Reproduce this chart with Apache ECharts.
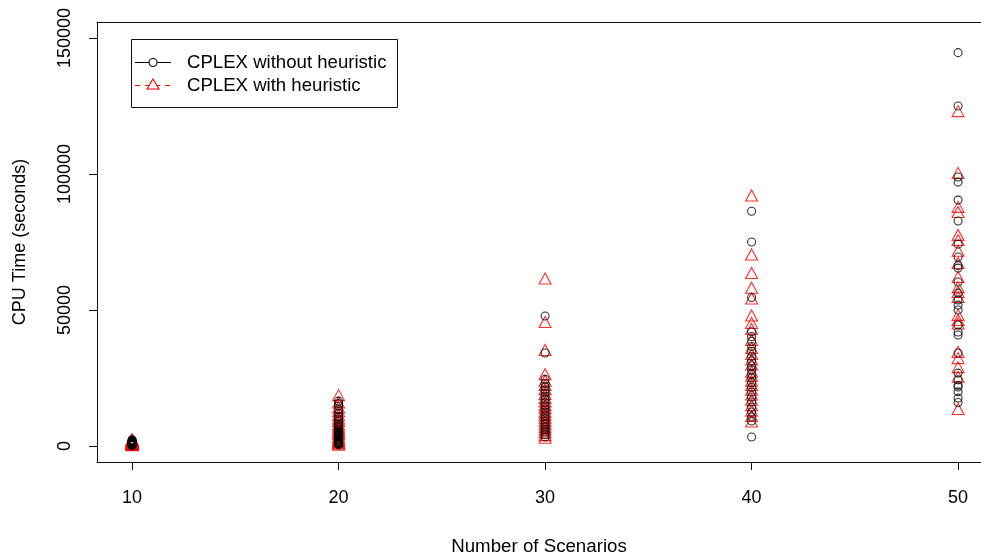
<!DOCTYPE html>
<html>
<head>
<meta charset="utf-8">
<script src="https://cdn.jsdelivr.net/npm/echarts@6/dist/echarts.min.js"></script>
<style>
html,body{margin:0;padding:0;background:#fff;}
#chart{width:981px;height:556px;}
</style>
</head>
<body>
<div id="chart"></div>
<script>
// Number of scenarios (x categories)
const scenarios = [10, 20, 30, 40, 50];

// CPU time (seconds): CPLEX without heuristic, per scenario count
const noHeur10 = [200, 300, 400, 500, 600, 700, 800, 900, 1000, 1100, 1200, 1300, 1400, 1500, 1600, 1700, 1900, 2100, 2300, 900];
const noHeur20 = [16500, 15600, 14700, 13300, 12000, 10800, 9900, 9000, 8200, 7500, 6800, 6100, 5500, 5200, 4900, 4600, 4300, 4100, 3800, 3500, 3200, 2900, 2600, 2300, 2100, 1800, 1600, 1300, 1100, 900, 700, 400];
const noHeur30 = [47800, 34200, 24500, 23000, 21800, 20600, 19500, 18300, 17200, 16000, 14800, 13600, 12400, 11200, 10100, 9000, 8000, 7000, 6000, 5100, 4200, 3300];
const noHeur40 = [86300, 75000, 54600, 42000, 40200, 38500, 36600, 34800, 33000, 31300, 29500, 28000, 26500, 25000, 23300, 21500, 19800, 18000, 16200, 14300, 12500, 10700, 9200, 3300];
const noHeur50 = [144600, 125000, 98900, 97000, 90400, 82700, 74200, 69500, 66300, 65400, 60300, 56200, 53700, 51800, 50000, 44500, 41900, 40800, 34200, 26800, 24300, 22300, 21700, 19900, 17600, 16000];

// CPU time (seconds): CPLEX with heuristic, per scenario count
const heur10 = [300, 400, 500, 600, 700, 800, 900, 1000, 1100, 1200, 1300, 1400, 1500, 1600, 1700, 1800, 1900, 2100, 2200, 2500];
const heur20 = [18700, 16000, 14200, 12800, 11300, 10100, 9200, 8000, 7200, 6400, 5700, 5000, 4400, 3600, 2900, 2300, 1800, 1300, 900, 500];
const heur30 = [61600, 45600, 35300, 26400, 24000, 22400, 20900, 19100, 17700, 16400, 15000, 13900, 12600, 11500, 10400, 9300, 8200, 7100, 6100, 5000, 4000, 3000];
const heur40 = [92100, 70400, 63600, 58200, 54200, 48000, 45200, 43000, 39000, 36000, 33800, 31800, 30000, 27300, 25800, 24000, 22400, 20700, 18900, 17000, 15000, 13000, 11000, 9000];
const heur50 = [123100, 100400, 87900, 86000, 77600, 75700, 71800, 67300, 62100, 58400, 56600, 54800, 48200, 46300, 45000, 34600, 32300, 29000, 25500, 13600];

// Axis tick values
const xTicks = [10, 20, 30, 40, 50];
const yTicks = [0, 50000, 100000, 150000];

const seriesNames = ['CPLEX without heuristic', 'CPLEX with heuristic'];

function pairs(groups) {
  const out = [];
  groups.forEach((vals, i) => vals.forEach(v => out.push([scenarios[i], v])));
  return out;
}
const noHeurData = pairs([noHeur10, noHeur20, noHeur30, noHeur40, noHeur50]);
const heurData = pairs([heur10, heur20, heur30, heur40, heur50]);

const FONT = "'Liberation Sans', Arial, sans-serif";
const AX = '#111';
const chart = echarts.init(document.getElementById('chart'));
chart.setOption({
  animation: false,
  backgroundColor: '#ffffff',
  grid: { left: 97, top: 22, right: 0, bottom: 94, show: false, outerBoundsMode: 'none', containLabel: false },
  xAxis: [
    {
      type: 'value',
      min: 8.3, max: 51.11,
      name: 'Number of Scenarios',
      nameLocation: 'middle',
      nameGap: 75,
      nameTextStyle: { fontFamily: FONT, fontSize: 18.7, color: '#000' },
      axisLine: { show: true, onZero: false, lineStyle: { color: AX, width: 1 } },
      axisTick: { show: true, inside: false, length: 8, customValues: xTicks, lineStyle: { color: AX } },
      axisLabel: { customValues: xTicks, margin: 27, fontFamily: FONT, fontSize: 18, color: '#000', formatter: v => String(v) },
      splitLine: { show: false }
    },
    {
      type: 'value',
      position: 'top',
      min: 8.3, max: 51.11,
      axisLine: { show: true, onZero: false, lineStyle: { color: AX, width: 1 } },
      axisTick: { show: false },
      axisLabel: { show: false },
      splitLine: { show: false }
    }
  ],
  yAxis: {
    type: 'value',
    min: -5880, max: 155860,
    name: 'CPU Time (seconds)',
    nameLocation: 'middle',
    nameGap: 68,
    nameRotate: 90,
    nameTextStyle: { fontFamily: FONT, fontSize: 18, color: '#000' },
    axisLine: { show: true, onZero: false, lineStyle: { color: AX, width: 1 } },
    axisTick: { show: true, inside: false, length: 8, customValues: yTicks, lineStyle: { color: AX } },
    axisLabel: { customValues: yTicks, rotate: 90, margin: 23, fontFamily: FONT, fontSize: 18, color: '#000', formatter: v => String(v) },
    splitLine: { show: false }
  },
  series: [
    {
      name: seriesNames[1],
      type: 'scatter',
      symbol: 'triangle',
      symbolSize: [12, 11],
      itemStyle: { color: 'rgba(0,0,0,0)', borderColor: '#ff0000', borderWidth: 1.1 },
      data: heurData,
      z: 2
    },
    {
      name: seriesNames[0],
      type: 'scatter',
      symbol: 'circle',
      symbolSize: 8,
      itemStyle: { color: 'rgba(0,0,0,0)', borderColor: '#000', borderWidth: 1.1 },
      data: noHeurData,
      z: 3
    }
  ],
  graphic: [
    { type: 'rect', shape: { x: 131.5, y: 39.5, width: 266, height: 68 }, style: { fill: '#fff', stroke: AX, lineWidth: 1 }, z: 10 },
    { type: 'line', shape: { x1: 135, y1: 62.5, x2: 171, y2: 62.5 }, style: { stroke: '#000', lineWidth: 1 }, z: 11 },
    { type: 'circle', shape: { cx: 153, cy: 62.5, r: 4 }, style: { fill: '#fff', stroke: '#000', lineWidth: 1.1 }, z: 12 },
    { type: 'text', style: { text: seriesNames[0], x: 187, y: 63, fill: '#000', font: '18.6px ' + FONT, verticalAlign: 'middle' }, z: 12 },
    { type: 'line', shape: { x1: 135, y1: 85.5, x2: 171, y2: 85.5 }, style: { stroke: '#ff0000', lineWidth: 1, lineDash: [5, 5] }, z: 11 },
    { type: 'polygon', shape: { points: [[153, 79], [147, 89], [159, 89]] }, style: { fill: '#fff', stroke: '#ff0000', lineWidth: 1.1 }, z: 12 },
    { type: 'text', style: { text: seriesNames[1], x: 187, y: 86, fill: '#000', font: '18.6px ' + FONT, verticalAlign: 'middle' }, z: 12 }
  ]
});
</script>
</body>
</html>
